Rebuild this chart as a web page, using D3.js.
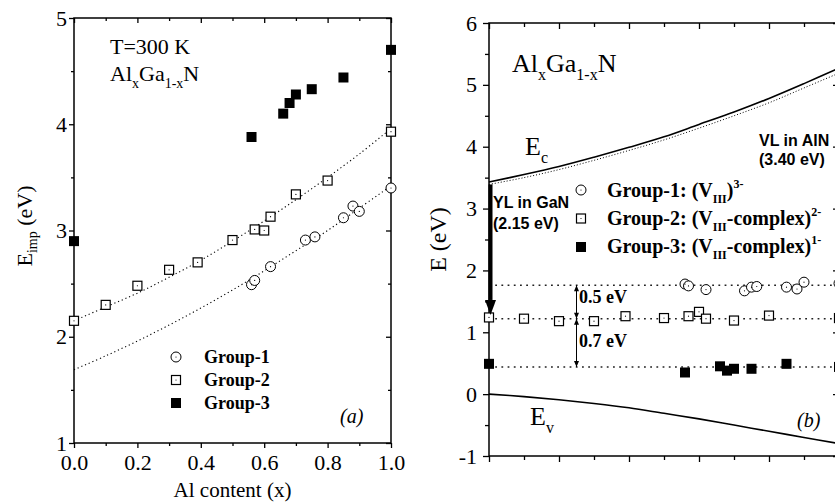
<!DOCTYPE html>
<html>
<head>
<meta charset="utf-8">
<script src="https://cdn.jsdelivr.net/npm/d3@7"></script>
<style>
  html, body { margin: 0; padding: 0; background: #fff; }
  svg { display: block; }
  .serif { font-family: "Liberation Serif", "Times New Roman", serif; }
  .sans { font-family: "Liberation Sans", Arial, sans-serif; }
</style>
</head>
<body>
<svg id="chart" width="835" height="502"></svg>
<script>
/**
 * AlGaN 不純物準位 (a) とバンド図 (b)
 */

// ---- 共通の目盛り ----
const xMajorTicks = [0, 0.2, 0.4, 0.6, 0.8, 1.0];
const xMinorTicks = [0.1, 0.3, 0.5, 0.7, 0.9];
const leftYMajor = [1, 2, 3, 4, 5];
const leftYMinor = [1.5, 2.5, 3.5, 4.5];
const rightYMajor = [-1, 0, 1, 2, 3, 4, 5, 6];
const rightYMinor = [-0.5, 0.5, 1.5, 2.5, 3.5, 4.5, 5.5];

// ---- (a) E_imp ----
const g1X = [0.56, 0.57, 0.62, 0.73, 0.76, 0.85, 0.88, 0.9, 1.0];
const g1Eimp = [2.49, 2.53, 2.66, 2.91, 2.94, 3.12, 3.23, 3.18, 3.4];
const g2X = [0, 0.1, 0.2, 0.3, 0.39, 0.5, 0.57, 0.6, 0.62, 0.7, 0.8, 1.0];
const g2Eimp = [2.15, 2.3, 2.48, 2.63, 2.7, 2.91, 3.01, 3.0, 3.13, 3.34, 3.47, 3.93];
const g3X = [0, 0.56, 0.66, 0.68, 0.7, 0.75, 0.85, 1.0];
const g3Eimp = [2.9, 3.88, 4.1, 4.2, 4.28, 4.33, 4.44, 4.7];

// フィット曲線 (点線)
const curveX = [0, 0.1, 0.2, 0.3, 0.4, 0.5, 0.6, 0.7, 0.8, 0.9, 1.0];
const fit1 = [1.69, 1.82, 1.96, 2.11, 2.27, 2.44, 2.62, 2.81, 3.0, 3.21, 3.42];
const fit2 = [2.15, 2.28, 2.41, 2.56, 2.72, 2.9, 3.09, 3.29, 3.5, 3.72, 3.96];

// ---- (b) バンド図 ----
const ecE = [3.43, 3.55, 3.68, 3.83, 3.99, 4.16, 4.36, 4.56, 4.78, 5.02, 5.27];
const ecDotE = [3.39, 3.5, 3.63, 3.78, 3.94, 4.11, 4.3, 4.5, 4.71, 4.95, 5.19];
const evE = [0, -0.04, -0.09, -0.15, -0.22, -0.31, -0.4, -0.5, -0.6, -0.7, -0.8];
const levelE = [1.76, 1.22, 0.44];

const lv1X = [0.56, 0.57, 0.62, 0.73, 0.75, 0.765, 0.85, 0.88, 0.9, 1.0];
const lv1E = [1.78, 1.75, 1.69, 1.67, 1.73, 1.74, 1.73, 1.7, 1.81, 1.79];
const lv2X = [0, 0.1, 0.2, 0.3, 0.39, 0.5, 0.57, 0.6, 0.62, 0.7, 0.8, 1.0];
const lv2E = [1.24, 1.22, 1.18, 1.18, 1.26, 1.23, 1.26, 1.33, 1.22, 1.19, 1.27, 1.23];
const lv3X = [0, 0.56, 0.66, 0.68, 0.7, 0.75, 0.85, 1.0];
const lv3E = [0.49, 0.35, 0.45, 0.38, 0.41, 0.41, 0.49, 0.44];

// 矢印 (x, 始点E, 終点E)
const bigArrows = [
  { x: 0, from: 3.39, to: 1.28 },
  { x: 1.0, from: 5.2, to: 1.8 },
];
const gapArrows = [
  { x: 0.25, from: 1.76, to: 1.22 },
  { x: 0.25, from: 1.22, to: 0.44 },
];

const SERIF = '"Liberation Serif", "Times New Roman", serif';
const svg = d3.select("#chart");

// スケール
const xA = d3.scaleLinear().domain([0, 1]).range([74, 391]);
const yA = d3.scaleLinear().domain([1, 5]).range([443, 18]);
const xB = d3.scaleLinear().domain([0, 1]).range([489, 839]);
const yB = d3.scaleLinear().domain([-1, 6]).range([456, 23]);

/**
 * 枠と目盛り (下・左は外向き、上・右は内向き)
 */
function drawFrame(x, y, o) {
  const [x0, x1] = x.range();
  const [yb, yt] = y.range();
  const g = svg.append("g");

  const add = (axis, tx, ty) => {
    const a = g.append("g").attr("transform", `translate(${tx},${ty})`).call(axis);
    a.attr("font-family", SERIF).attr("font-size", 22);
    a.select(".domain").remove();
    a.selectAll("line").attr("stroke", "#000").attr("stroke-width", 1.3);
    a.selectAll("text").attr("fill", "#000");
    return a;
  };

  add(d3.axisBottom(x).tickValues(xMajorTicks).tickSize(o.tick).tickPadding(6)
    .tickFormat(o.xLabels ? d3.format(".1f") : () => ""), 0, yb);
  add(d3.axisBottom(x).tickValues(xMinorTicks).tickSize(o.minor).tickFormat(() => ""), 0, yb);
  add(d3.axisTop(x).tickValues(xMajorTicks).tickSize(-o.tick).tickFormat(() => ""), 0, yt);
  add(d3.axisTop(x).tickValues(xMinorTicks).tickSize(-o.minor).tickFormat(() => ""), 0, yt);

  add(d3.axisLeft(y).tickValues(o.yMajor).tickSize(o.tick).tickPadding(o.yPad)
    .tickFormat((d) => String(d)), x0, 0);
  add(d3.axisLeft(y).tickValues(o.yMinor).tickSize(o.minor).tickFormat(() => ""), x0, 0);
  add(d3.axisRight(y).tickValues(o.yMajor).tickSize(-o.tick).tickFormat(() => ""), x1, 0);
  add(d3.axisRight(y).tickValues(o.yMinor).tickSize(-o.minor).tickFormat(() => ""), x1, 0);

  g.append("rect")
    .attr("x", x0).attr("y", yt)
    .attr("width", x1 - x0).attr("height", yb - yt)
    .attr("fill", "none").attr("stroke", "#000").attr("stroke-width", 1.5);
}

/**
 * マーカー描画
 */
function drawMarkers(xs, ys, type, x, y, size) {
  const pts = xs.map((v, i) => ({ x: x(v), y: y(ys[i]) }));
  const g = svg.append("g");
  if (type === "circle") {
    g.selectAll("circle.m").data(pts).join("circle").attr("class", "m")
      .attr("cx", (d) => d.x).attr("cy", (d) => d.y).attr("r", size / 2)
      .attr("fill", "#fff").attr("stroke", "#000").attr("stroke-width", 1);
  } else {
    g.selectAll("rect.m").data(pts).join("rect").attr("class", "m")
      .attr("x", (d) => d.x - size / 2).attr("y", (d) => d.y - size / 2)
      .attr("width", size).attr("height", size)
      .attr("fill", type === "filled" ? "#000" : "#fff")
      .attr("stroke", "#000").attr("stroke-width", type === "filled" ? 0 : 1.2);
  }
  if (type !== "filled") {
    g.selectAll("circle.dot").data(pts).join("circle").attr("class", "dot")
      .attr("cx", (d) => d.x).attr("cy", (d) => d.y).attr("r", 0.6).attr("fill", "#000");
  }
}

function legendSymbol(cx, cy, type, size) {
  drawMarkers([0], [0], type, () => cx, () => cy, size);
}

function curve(xs, ys, x, y, dash, width) {
  const line = d3.line().x((d) => x(d[0])).y((d) => y(d[1])).curve(d3.curveCatmullRom);
  svg.append("path")
    .attr("d", line(xs.map((v, i) => [v, ys[i]])))
    .attr("fill", "none").attr("stroke", "#000")
    .attr("stroke-width", width)
    .attr("stroke-dasharray", dash);
}

/**
 * 下付き・上付きつきテキスト
 * parts: [文字, 種類("n"|"sub"|"sup")]
 */
function richText(x, y, parts, cls, size, subSize, weight, style) {
  const t = svg.append("text").attr("class", cls)
    .attr("x", x).attr("y", y)
    .style("font-size", size + "px")
    .style("font-weight", weight || "normal")
    .style("font-style", style || "normal");
  let shift = 0;
  parts.forEach(([s, k]) => {
    const target = k === "sub" ? subSize * 0.5 : k === "sup" ? -size * 0.45 : 0;
    t.append("tspan")
      .attr("dy", target - shift)
      .style("font-size", (k === "n" ? size : subSize) + "px")
      .text(s);
    shift = target;
  });
  return t;
}

// ================= (a) =================
drawFrame(xA, yA, { tick: 5, minor: 3, yMajor: leftYMajor, yMinor: leftYMinor, yPad: 2, xLabels: true });
curve(curveX, fit1, xA, yA, "1.2,2.8", 1.1);
curve(curveX, fit2, xA, yA, "1.2,2.8", 1.1);
drawMarkers(g1X, g1Eimp, "circle", xA, yA, 10);
drawMarkers(g2X, g2Eimp, "square", xA, yA, 9);
drawMarkers(g3X, g3Eimp, "filled", xA, yA, 10);

richText(110, 54, [["T=300 K", "n"]], "serif", 22, 14);
richText(110, 81, [["Al", "n"], ["x", "sub"], ["Ga", "n"], ["1-x", "sub"], ["N", "n"]], "serif", 22, 14);

const legendA = [
  { type: "circle", label: "Group-1", size: 10 },
  { type: "square", label: "Group-2", size: 9 },
  { type: "filled", label: "Group-3", size: 10 },
];
legendA.forEach((d, i) => {
  legendSymbol(176, 357 + i * 23, d.type, d.size);
  richText(204, 363 + i * 23, [[d.label, "n"]], "serif", 18, 12, "bold");
});
richText(340, 423, [["(a)", "n"]], "serif", 20, 14, "normal", "italic");

svg.append("text").attr("class", "serif")
  .attr("transform", `translate(${xA(0.5)},497)`)
  .attr("text-anchor", "middle").style("font-size", "21px")
  .text("Al content (x)");

const yLabA = svg.append("text").attr("class", "serif")
  .attr("transform", "translate(32,226) rotate(-90)")
  .attr("text-anchor", "middle").style("font-size", "22px");
yLabA.append("tspan").text("E");
yLabA.append("tspan").attr("dy", 5).style("font-size", "14px").text("imp");
yLabA.append("tspan").attr("dy", -5).text(" (eV)");

// ================= (b) =================
drawFrame(xB, yB, { tick: 6, minor: 4, yMajor: rightYMajor, yMinor: rightYMinor, yPad: 6, xLabels: false });

// 準位の点線
svg.append("g").selectAll("line").data(levelE).join("line")
  .attr("x1", xB(0)).attr("x2", xB(1))
  .attr("y1", (d) => yB(d)).attr("y2", (d) => yB(d))
  .attr("stroke", "#222").attr("stroke-width", 1.6)
  .attr("stroke-dasharray", "1.8,4.4");

curve(curveX, ecDotE, xB, yB, "1,2", 1);
curve(curveX, ecE, xB, yB, null, 1.6);
curve(curveX, evE, xB, yB, null, 1.6);

drawMarkers(lv1X, lv1E, "circle", xB, yB, 10);
drawMarkers(lv2X, lv2E, "square", xB, yB, 9);
drawMarkers(lv3X, lv3E, "filled", xB, yB, 10);

// 太い矢印 (YL / VL)
bigArrows.forEach((a) => {
  const cx = xB(a.x) + 1.5;
  const tip = yB(a.to);
  const base = tip - 15;
  svg.append("rect")
    .attr("x", cx - 2).attr("y", yB(a.from))
    .attr("width", 4).attr("height", base - yB(a.from)).attr("fill", "#000");
  svg.append("path")
    .attr("d", `M${cx - 5.5},${base}L${cx + 5.5},${base}L${cx},${tip}Z`)
    .attr("fill", "#000");
});

// 間隔の両矢印
gapArrows.forEach((a) => {
  const cx = xB(a.x);
  const y1 = yB(a.from), y2 = yB(a.to);
  svg.append("line").attr("x1", cx).attr("x2", cx).attr("y1", y1).attr("y2", y2)
    .attr("stroke", "#000").attr("stroke-width", 1);
  svg.append("path")
    .attr("d", `M${cx - 2.5},${y1 + 6}L${cx + 2.5},${y1 + 6}L${cx},${y1}Z M${cx - 2.5},${y2 - 6}L${cx + 2.5},${y2 - 6}L${cx},${y2}Z`)
    .attr("fill", "#000");
});

richText(579, 303, [["0.5 eV", "n"]], "serif", 18, 12, "bold");
richText(579, 347, [["0.7 eV", "n"]], "serif", 18, 12, "bold");

richText(512, 72, [["Al", "n"], ["x", "sub"], ["Ga", "n"], ["1-x", "sub"], ["N", "n"]], "serif", 26, 16);
richText(525, 155, [["E", "n"], ["c", "sub"]], "serif", 26, 16);
richText(530, 425, [["E", "n"], ["v", "sub"]], "serif", 26, 16);
richText(797, 427, [["(b)", "n"]], "serif", 20, 14, "normal", "italic");

richText(493, 208, [["YL in GaN", "n"]], "sans", 16, 12, "bold");
richText(493, 229, [["(2.15 eV)", "n"]], "sans", 16, 12, "bold");
richText(759, 146, [["VL in AlN", "n"]], "sans", 16, 12, "bold");
richText(759, 165, [["(3.40 eV)", "n"]], "sans", 16, 12, "bold");

const legendB = [
  { type: "circle", size: 10, parts: [["Group-1: (V", "n"], ["III", "sub"], [")", "n"], ["3-", "sup"]] },
  { type: "square", size: 9, parts: [["Group-2: (V", "n"], ["III", "sub"], ["-complex)", "n"], ["2-", "sup"]] },
  { type: "filled", size: 10, parts: [["Group-3: (V", "n"], ["III", "sub"], ["-complex)", "n"], ["1-", "sup"]] },
];
legendB.forEach((d, i) => {
  legendSymbol(581, 190 + i * 28.5, d.type, d.size);
  richText(607, 197 + i * 28, d.parts, "serif", 20, 12, "bold");
});

svg.append("text").attr("class", "serif")
  .attr("transform", `translate(446,${yB(2.5)}) rotate(-90)`)
  .attr("text-anchor", "middle").style("font-size", "24px")
  .text("E (eV)");
</script>
</body>
</html>
